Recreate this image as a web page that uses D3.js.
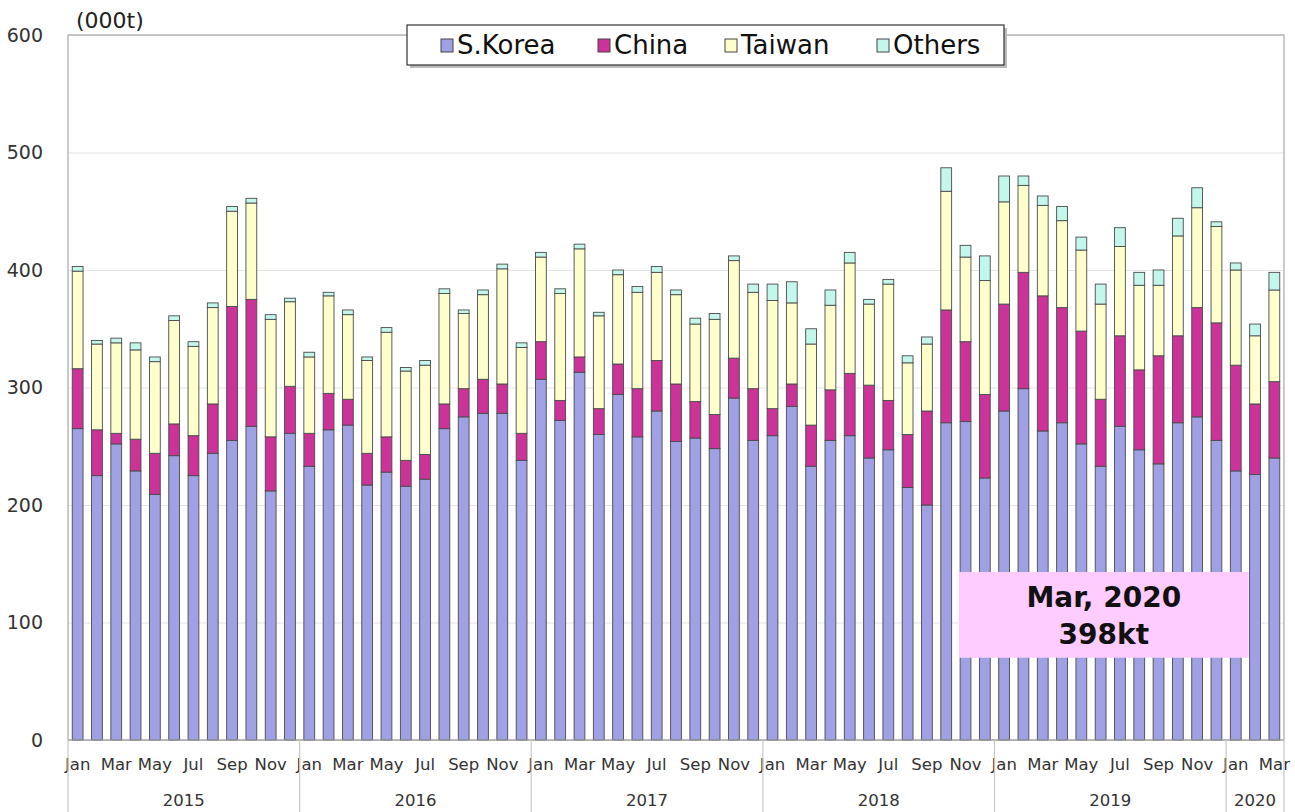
<!DOCTYPE html>
<html><head><meta charset="utf-8">
<script src="https://cdn.jsdelivr.net/npm/d3@7"></script>
<style>body{margin:0;background:#fff}svg{display:block}</style>
</head><body><svg id="c" width="1295" height="812"></svg>
<script>
const monthNames = ["Jan","Feb","Mar","Apr","May","Jun","Jul","Aug","Sep","Oct","Nov","Dec"];
const years = ["2015","2016","2017","2018","2019","2020"];
const seriesNames = ["S.Korea","China","Taiwan","Others"];
const yTicks = [0,100,200,300,400,500,600];

const korea = [265,225,252,229,209,242,225,244,255,267,212,261,
  233,264,268,217,228,216,222,265,275,278,278,238,
  307,272,313,260,294,258,280,254,257,248,291,255,
  259,284,233,255,259,240,247,215,200,270,271,223,
  280,299,263,270,252,233,267,247,235,270,275,255,
  229,226,240];
const china = [51,39,9,27,35,27,34,42,114,108,46,40,
  28,31,22,27,30,22,21,21,24,29,25,23,
  32,17,13,22,26,41,43,49,31,29,34,44,
  23,19,35,43,53,62,42,45,80,96,68,71,
  91,99,115,98,96,57,77,68,92,74,93,100,
  90,60,65];
const taiwan = [83,73,77,76,78,88,76,82,81,82,100,72,
  65,83,72,79,89,76,76,94,64,72,98,73,
  72,91,92,79,76,82,75,76,66,81,83,82,
  92,69,69,72,94,69,99,61,57,101,72,97,
  87,74,77,74,69,81,76,72,60,85,85,82,
  81,58,78];
const others = [4,3,4,6,4,4,4,4,4,4,4,3,
  4,3,4,3,4,3,4,4,3,4,4,4,
  4,4,4,3,4,5,5,4,5,5,4,7,
  14,18,13,13,9,4,4,6,6,20,10,21,
  22,8,8,12,11,17,16,11,13,15,17,4,
  6,10,15];
const annotation = ["Mar, 2020","398kt"];

const colors = ["#a0a0e4","#cc3399","#ffffcc","#c4f7ec"];

// build table
const rows = korea.map((k,i)=>({
  idx:i, month: monthNames[i%12], year: years[Math.floor(i/12)],
  "S.Korea":k, "China":china[i], "Taiwan":taiwan[i], "Others":others[i]
}));

const svg = d3.select("#c");
const L=68, R=1284, T=35, B=740;
const x = d3.scaleBand().domain(rows.map(d=>d.idx)).range([L,R]).paddingInner(0.44).paddingOuter(0.22);
const y = d3.scaleLinear().domain([0,600]).range([B,T]);
const font = "'DejaVu Sans', Verdana, sans-serif";

// gridlines
svg.append("g").attr("transform",`translate(${L},0)`)
  .call(d3.axisLeft(y).tickValues(yTicks).tickSize(-(R-L)).tickFormat(""))
  .call(g=>g.select(".domain").remove())
  .call(g=>g.selectAll("line").attr("stroke","#e4e4e4").attr("stroke-width",1.2));

// y labels
svg.append("g").attr("transform",`translate(${L},0)`)
  .call(d3.axisLeft(y).tickValues(yTicks).tickSize(0).tickPadding(25))
  .call(g=>g.select(".domain").remove())
  .call(g=>g.selectAll("text").attr("font-family",font).attr("font-size",19).attr("fill","#333"));

// plot frame
svg.append("rect").attr("x",L).attr("y",T).attr("width",R-L).attr("height",B-T)
  .attr("fill","none").attr("stroke","#a8a8a8").attr("stroke-width",1.2);

// stacks
const stack = d3.stack().keys(seriesNames)(rows);
svg.append("g").selectAll("g").data(stack).join("g")
  .attr("fill",(d,i)=>colors[i])
  .selectAll("rect").data(d=>d).join("rect")
  .attr("x",d=>x(d.data.idx))
  .attr("width",x.bandwidth())
  .attr("y",d=>y(d[1]))
  .attr("height",d=>y(d[0])-y(d[1]))
  .attr("stroke","#4a4a4a").attr("stroke-width",0.9);

// bottom axis line
svg.append("line").attr("x1",L).attr("x2",R).attr("y1",B).attr("y2",B).attr("stroke","#a8a8a8").attr("stroke-width",1.2);

// month labels (every other)
const xAxis = d3.axisBottom(x).tickValues(rows.filter(d=>d.idx%2===0).map(d=>d.idx))
  .tickFormat(i=>rows[i].month).tickSize(0).tickPadding(18);
svg.append("g").attr("transform",`translate(0,${B})`).call(xAxis)
  .call(g=>g.select(".domain").remove())
  .call(g=>g.selectAll("text").attr("font-family",font).attr("font-size",16.5).attr("fill","#333"));

// year separators & labels
const step = x.step();
const edge = i => x(i) - step*0.22;
const yearStarts = years.map((yr,k)=>k*12);
const sepIdx = yearStarts.concat([rows.length]);
svg.append("g").selectAll("line").data(sepIdx).join("line")
  .attr("x1",i=>i>=rows.length? R : edge(i)).attr("x2",i=>i>=rows.length? R : edge(i))
  .attr("y1",B).attr("y2",812).attr("stroke","#c8c8c8").attr("stroke-width",1.2);
svg.append("g").selectAll("text").data(years).join("text")
  .attr("x",(yr,k)=>{const s=k*12, e=Math.min(k*12+12, rows.length); const a=edge(s), b=e>=rows.length?R:edge(e); return (a+b)/2;})
  .attr("y",806).attr("text-anchor","middle")
  .attr("font-family",font).attr("font-size",16.5).attr("fill","#333").text(d=>d);

// unit label
svg.append("text").attr("x",76).attr("y",28).attr("font-family",font).attr("font-size",22).attr("fill","#222").text("(000t)");

// legend
const lg = svg.append("g");
lg.append("rect").attr("x",410).attr("y",28).attr("width",597).attr("height",40).attr("fill","#bbb");
lg.append("rect").attr("x",407).attr("y",25).attr("width",597).attr("height",40).attr("fill","#fff").attr("stroke","#333").attr("stroke-width",1.2);
const legX = [441,598,725,877];
seriesNames.forEach((s,i)=>{
  lg.append("rect").attr("x",legX[i]).attr("y",39).attr("width",12).attr("height",13)
    .attr("fill",colors[i]).attr("stroke","#444").attr("stroke-width",1);
  lg.append("text").attr("x",legX[i]+16).attr("y",54).attr("font-family",font).attr("font-size",26).attr("fill","#111").text(s);
});

// annotation
const ax0 = x(46) - step*0.06, ax1 = x(61) - step*0.05;
svg.append("rect").attr("x",ax0).attr("y",y(143)).attr("width",ax1-ax0).attr("height",y(70)-y(143)).attr("fill","#ffccff");
svg.append("text").attr("x",(ax0+ax1)/2).attr("y",607).attr("text-anchor","middle")
  .attr("font-family",font).attr("font-weight","bold").attr("font-size",28).attr("fill","#111").text(annotation[0]);
svg.append("text").attr("x",(ax0+ax1)/2).attr("y",644).attr("text-anchor","middle")
  .attr("font-family",font).attr("font-weight","bold").attr("font-size",28).attr("fill","#111").text(annotation[1]);
</script></body></html>
